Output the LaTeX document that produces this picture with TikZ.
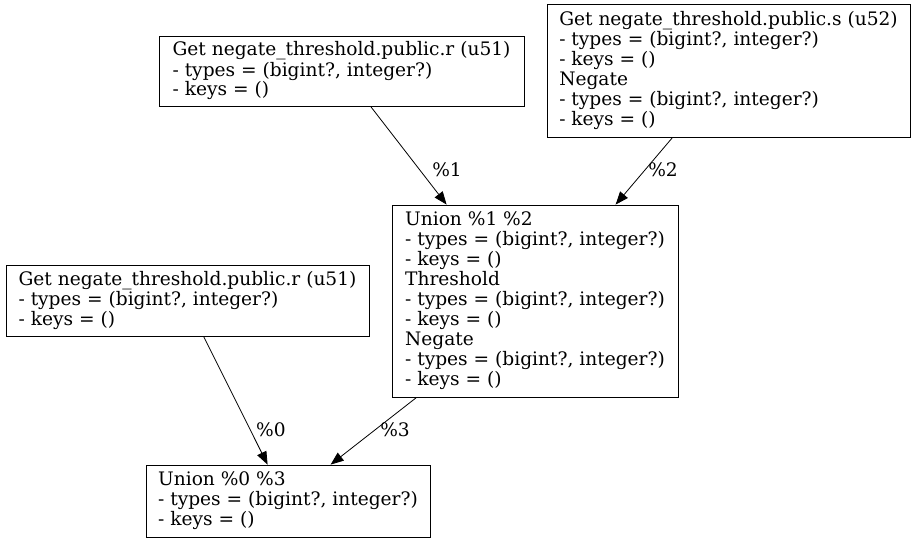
\documentclass[tikz,border=0pt]{standalone}
\usepackage{fontspec}
\setmainfont{DejaVu Serif}
\usetikzlibrary{arrows.meta}
\begin{document}
\begin{tikzpicture}[x=1pt,y=-1pt,
  box/.style={draw, rectangle, align=left, font=\fontsize{18.6}{20}\selectfont, inner sep=0pt, line width=0.8pt},
  edge/.style={-{Triangle[length=13pt,width=10pt]}, line width=0.8pt},
  lbl/.style={font=\fontsize{18.6}{20}\selectfont, inner sep=0pt}]
\useasboundingbox (0,0) rectangle (915,543);
\node[box, minimum width=365pt, minimum height=70pt] (A) at (341.5,71) {Get negate\_threshold.public.r (u51)\\- types = (bigint?, integer?)\\- keys = ()};
\node[box, minimum width=363pt, minimum height=133pt] (B) at (728.5,70.5) {Get negate\_threshold.public.s (u52)\\- types = (bigint?, integer?)\\- keys = ()\\Negate\\- types = (bigint?, integer?)\\- keys = ()};
\node[box, minimum width=286pt, minimum height=192pt] (C) at (535,301) {Union \%1 \%2\\- types = (bigint?, integer?)\\- keys = ()\\Threshold\\- types = (bigint?, integer?)\\- keys = ()\\Negate\\- types = (bigint?, integer?)\\- keys = ()};
\node[box, minimum width=363pt, minimum height=71pt] (D) at (187.5,300.5) {Get negate\_threshold.public.r (u51)\\- types = (bigint?, integer?)\\- keys = ()};
\node[box, minimum width=284pt, minimum height=72pt] (E) at (288,501) {Union \%0 \%3\\- types = (bigint?, integer?)\\- keys = ()};
\draw[edge] ([xshift=212pt]A.south west) -- ([xshift=55pt]C.north west);
\draw[edge] ([xshift=126pt]B.south west) -- ([xshift=224pt]C.north west);
\draw[edge] ([xshift=198pt]D.south west) -- ([xshift=122pt]E.north west);
\draw[edge] ([xshift=25pt]C.south west) -- ([xshift=185pt]E.north west);
\node[lbl] (l1) at (447,170) {\%1};
\node[lbl] (l2) at (663,170) {\%2};
\node[lbl] (l0) at (271,430) {\%0};
\node[lbl] (l3) at (395,430) {\%3};
\end{tikzpicture}
\end{document}
